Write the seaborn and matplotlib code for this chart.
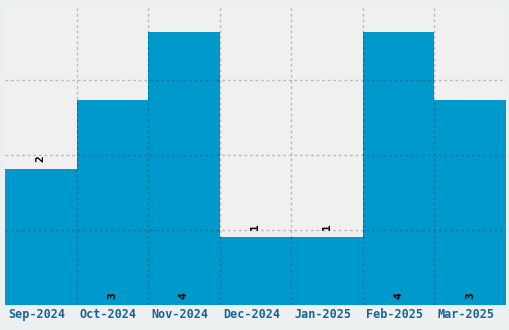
import matplotlib
matplotlib.use("Agg")
import matplotlib.pyplot as plt
import matplotlib.transforms as mtransforms
import seaborn as sns
import numpy as np
import pandas as pd

months = ["Sep-2024", "Oct-2024", "Nov-2024", "Dec-2024", "Jan-2025", "Feb-2025", "Mar-2025"]
counts = [2, 3, 4, 1, 1, 4, 3]

sns.set_theme(style="white")
plt.rcParams['font.family'] = ['DejaVu Sans Mono']

df = pd.DataFrame({"month": months, "count": counts})

fig = plt.figure(figsize=(5.1, 3.3), dpi=100, facecolor="#edf0f1")
ax = fig.add_axes([5/510, 25/330, 501/510, 300/330])
ax.set_facecolor("#f0f0f0")

sns.barplot(data=df, x="month", y="count", color="#0099cc", width=1.0,
            saturation=1, ax=ax, edgecolor="none", linewidth=0)

ymax = 4.4
ax.set_ylim(0, ymax)
ax.set_xlim(-0.5, len(months) - 0.5)
ax.set_yticks(np.linspace(0, ymax, 5)[1:-1])
ax.set_yticklabels([])
ax.set_xticks(np.arange(1, len(months)) - 0.5, minor=True)
ax.grid(False)
ax.grid(True, which="minor", axis="x", color="black", alpha=0.22, linestyle=(0, (2, 2)), linewidth=1)
ax.grid(True, which="major", axis="y", color="black", alpha=0.22, linestyle=(0, (2, 2)), linewidth=1)
ax.set_axisbelow(False)
for s in ax.spines.values():
    s.set_visible(False)
ax.tick_params(axis="both", which="both", length=0)
ax.tick_params(axis="x", pad=2)
ax.set_xlabel("")
ax.set_ylabel("")
shift = mtransforms.ScaledTranslation(-4/100, 0, fig.dpi_scale_trans)
for lbl in ax.get_xticklabels():
    lbl.set_fontweight("bold")
    lbl.set_fontsize(8.5)
    lbl.set_color("#1a6396")
    lbl.set_transform(lbl.get_transform() + shift)

for i, v in enumerate(counts):
    if v / ymax > 0.6:
        ax.annotate(str(v), (i, 0), xytext=(0, 4), textcoords="offset points",
                    rotation=90, ha="center", va="bottom",
                    fontsize=8, fontweight="bold", color="black")
    else:
        ax.annotate(str(v), (i, v), xytext=(0, 5), textcoords="offset points",
                    rotation=90, ha="center", va="bottom",
                    fontsize=8, fontweight="bold", color="black")

fig.savefig("out.png", dpi=100, facecolor=fig.get_facecolor())
